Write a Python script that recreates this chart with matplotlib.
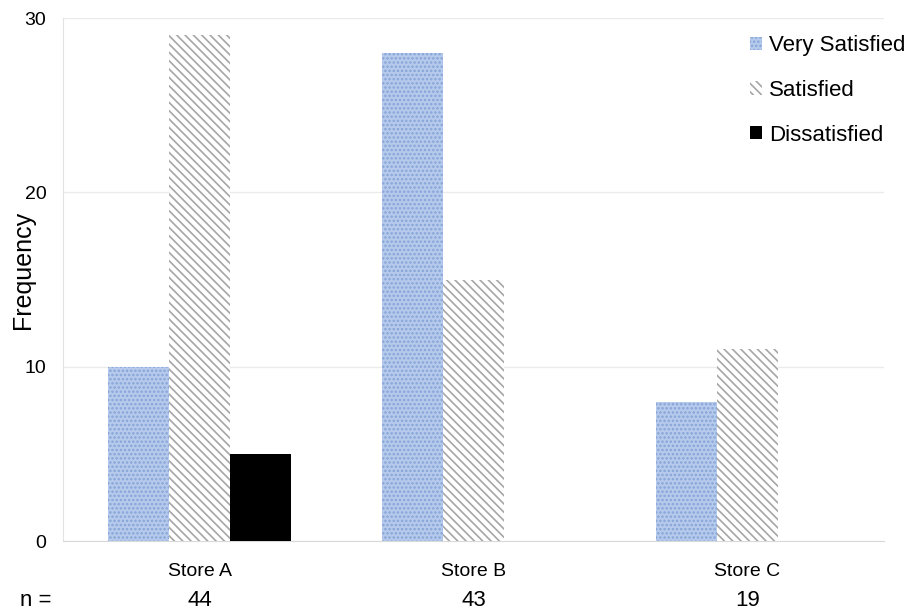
import numpy as np
import matplotlib
matplotlib.use("Agg")
from matplotlib import pyplot as plt

# Données
magasins = ["Store A", "Store B", "Store C"]
effectifs = [44, 43, 19]
tres_satisfait = [10, 28, 8]
satisfait = [29, 15, 11]
insatisfait = [5, 0, 0]

plt.rcParams['font.family'] = ['Liberation Sans', 'DejaVu Sans']
plt.rcParams['hatch.linewidth'] = 1.2

fig = plt.figure(figsize=(9.08, 6.15), dpi=100)
ax = fig.add_axes([0.0694, 0.1203, 0.9042, 0.8504])

x = np.arange(len(magasins))
w = 0.223

ax.bar(x - w, tres_satisfait, w, facecolor='#b6caec', edgecolor='#86a4d8',
       hatch='....', linewidth=0, label="Very Satisfied", zorder=3)
ax.bar(x, satisfait, w, facecolor='white', edgecolor='#a6a6a6',
       hatch='\\\\\\\\', linewidth=0, label="Satisfied", zorder=3)
ax.bar(x + w, insatisfait, w, facecolor='black', edgecolor='black',
       linewidth=0, label="Dissatisfied", zorder=3)

ax.set_xlim(-0.5, 2.5)
ax.set_ylim(0, 30)
ax.set_yticks([0, 10, 20, 30])
ax.set_xticks(x)
ax.set_xticklabels(magasins)
ax.tick_params(axis='both', length=0, labelsize=14)
ax.tick_params(axis='y', pad=12)
ax.tick_params(axis='x', pad=16)

ax.grid(axis='y', color='#ebebeb', linewidth=1, zorder=0)
for s in ['top', 'right']:
  ax.spines[s].set_visible(False)
ax.spines['left'].set_color('#e3e3e3')
ax.spines['bottom'].set_color('#d9d9d9')

ax.set_ylabel("Frequency", fontsize=18)
ax.yaxis.set_label_coords(-0.034, 0.518)

# Ligne n =
ax.text(-0.033, -0.113, "n =", transform=ax.transAxes, fontsize=16,
        ha='center', va='center')
for xi, n in zip(x, effectifs):
  ax.text(xi, -0.113, str(n), transform=ax.get_xaxis_transform(),
          fontsize=16, ha='center', va='center')

leg = ax.legend(loc='upper right', bbox_to_anchor=(1.05, 1.005), frameon=False,
                fontsize=16, handlelength=0.55, handleheight=0.55,
                handletextpad=0.3, labelspacing=1.06)

plt.savefig("out.png", dpi=100)
